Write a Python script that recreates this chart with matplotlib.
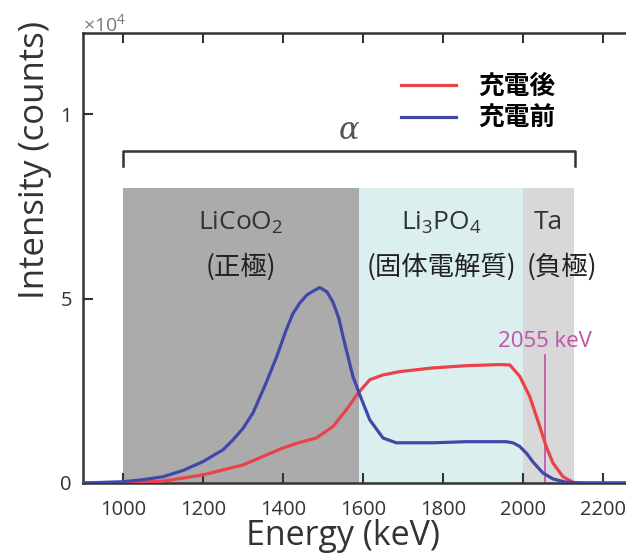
import numpy as np
import matplotlib
matplotlib.use("Agg")
import matplotlib.pyplot as plt

plt.rcParams["font.family"] = ["Open Sans", "Noto Sans CJK JP", "DejaVu Sans"]
plt.rcParams["mathtext.fontset"] = "custom"
plt.rcParams["mathtext.rm"] = "Open Sans"
plt.rcParams["mathtext.it"] = "Open Sans:italic"

# spectra (energy keV, counts)
e_before = [900, 1000, 1050, 1100, 1150, 1200, 1250, 1275, 1300, 1325, 1358, 1384, 1408,
            1425, 1442, 1460, 1475, 1492, 1510, 1525, 1540, 1550, 1575, 1592, 1617, 1650,
            1683, 1775, 1858, 1958, 1975, 1992, 2010, 2025, 2050, 2075, 2108, 2150, 2300]
c_before = [0, 35, 90, 170, 340, 580, 900, 1170, 1480, 1900, 2720, 3420, 4150,
            4600, 4880, 5100, 5200, 5300, 5180, 4900, 4450, 3970, 2880, 2390, 1710, 1220,
            1090, 1090, 1120, 1120, 1090, 990, 790, 570, 270, 110, 20, 0, 0]
e_after = [900, 1000, 1100, 1200, 1300, 1400, 1442, 1483, 1525, 1558, 1588, 1617, 1650,
           1692, 1775, 1858, 1942, 1967, 1992, 2017, 2042, 2058, 2075, 2100, 2125, 2150, 2300]
c_after = [0, 0, 50, 220, 490, 950, 1100, 1220, 1530, 1980, 2440, 2800, 2930,
           3020, 3120, 3180, 3210, 3200, 2890, 2340, 1530, 990, 540, 170, 20, 0, 0]

region_edges = [1000, 1590, 2000, 2128]
region_top = 8000
region_colors = ["#ababab", "#dcefef", "#d8d8d8"]
region_names = ["LiCoO$_2$", "Li$_3$PO$_4$", "Ta"]
region_roles = ["(正極)", "(固体電解質)", "(負極)"]
bracket_x = [1000, 2130]
bracket_y = [8600, 9000]
marker_e, marker_top = 2055, 3480

fig = plt.figure(figsize=(6.26, 5.55), dpi=100)
ax = fig.add_axes([83 / 626, 72 / 555, 560 / 626, 450 / 555])

for x0, x1, col in zip(region_edges[:-1], region_edges[1:], region_colors):
    ax.fill_between([x0, x1], 0, region_top, color=col, lw=0, zorder=0)

ax.plot(e_after, c_after, color="#e8434a", lw=2.3, label="充電後", zorder=3)
ax.plot(e_before, c_before, color="#4048a8", lw=2.3, label="充電前", zorder=3)

# bracket spanning all layers
ax.plot([bracket_x[0], bracket_x[0], bracket_x[1], bracket_x[1]],
        [bracket_y[0], bracket_y[1], bracket_y[1], bracket_y[0]], color="#333333", lw=1.8)
ax.text(np.mean(bracket_x), 9550, "α", family="DejaVu Serif", style="italic",
        fontsize=22, color="#555555", ha="center", va="center")

name_x = [1295, 1795, 2064]
role_x = [1295, 1795, 2097]
for nx, rx, nm, rl in zip(name_x, role_x, region_names, region_roles):
    ax.text(nx, 6875, nm, fontsize=19, color="#333333", ha="center", va="baseline")
    ax.text(rx, 5870, rl, fontsize=19, color="#222222", ha="center", va="center",
            family=["Noto Sans CJK JP"])

ax.plot([marker_e, marker_e], [0, marker_top], color="#c050a8", lw=1.2, zorder=2)
ax.text(marker_e, 3830, f"{marker_e} keV", color="#c050a8", fontsize=16,
        ha="center", va="center")

ax.set_xlim(900, 2300)
ax.set_ylim(0, 12200)
ax.set_xticks([1000, 1200, 1400, 1600, 1800, 2000, 2200])
ax.set_yticks([0, 5000, 10000])
ax.set_yticklabels(["0", "5", "1"])
ax.tick_params(direction="in", length=7, width=1.5, labelsize=14.5, colors="#333333",
               top=True, right=True)
ax.tick_params(axis="x", pad=12)
ax.tick_params(axis="y", pad=8)
for s in ax.spines.values():
    s.set_linewidth(1.8)
    s.set_color("#333333")
ax.text(0.0, 1.02, r"$\times10^4$", transform=ax.transAxes, fontsize=14,
        color="#777777", ha="left", va="center")

ax.set_xlabel("Energy (keV)", fontsize=24.5, color="#333333")
ax.xaxis.set_label_coords((343 - 83) / 560, -0.079)
ax.set_ylabel("Intensity (counts)", fontsize=25, color="#333333")
ax.yaxis.set_label_coords(-0.055, (483 - 160) / 450)

leg = ax.legend(loc="upper left", bbox_to_anchor=(0.545, 0.94),
                frameon=False, handlelength=2.15, handletextpad=0.85, labelspacing=0.2,
                borderpad=0, prop={"family": ["Noto Sans CJK JP"], "weight": "bold",
                                   "size": 18.5})

fig.savefig("out.png", dpi=100)
